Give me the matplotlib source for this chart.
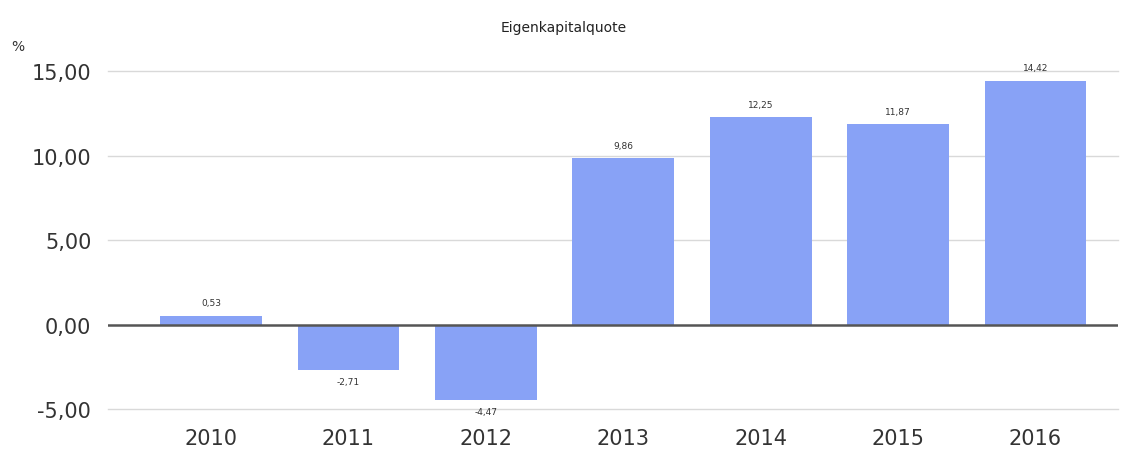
import numpy as np
import matplotlib.pyplot as plt

years = ["2010", "2011", "2012", "2013", "2014", "2015", "2016"]
quote = [0.53, -2.71, -4.47, 9.86, 12.25, 11.87, 14.42]
yticks = [-5, 0, 5, 10, 15]

BAR_COLOR = "#88a2f6"
TEXT_COLOR = "#333333"

def de_fmt(v):
    return f"{v:.2f}".replace(".", ",")

fig = plt.figure(figsize=(11.27, 4.52), dpi=100)
ax = fig.add_axes([0.0958, 0.0929, 0.8962, 0.7478])

x = np.arange(len(years))
bars = ax.bar(x, quote, width=0.74, color=BAR_COLOR, zorder=2)

# value labels above / below bars
for xi, v in zip(x, quote):
    if v >= 0:
        ax.annotate(de_fmt(v), (xi, v), xytext=(0, 6), textcoords="offset points",
                    ha="center", va="bottom", fontsize=6.5, color=TEXT_COLOR)
    else:
        ax.annotate(de_fmt(v), (xi, v), xytext=(0, -5), textcoords="offset points",
                    ha="center", va="top", fontsize=6.5, color=TEXT_COLOR)

ax.set_xlim(-0.75, 6.6)
ax.set_ylim(-5, 15)
ax.set_yticks(yticks)
ax.set_yticklabels([de_fmt(t) for t in yticks])
ax.set_xticks(x)
ax.set_xticklabels(years)

# gridlines drawn by hand so the one at -5 is not clipped
for t in yticks:
    if t != 0:
        ax.axhline(t, color="#d9d9d9", linewidth=1, zorder=0, clip_on=False)
ax.axhline(0, color="#555555", linewidth=1.8, zorder=3)

for s in ax.spines.values():
    s.set_visible(False)
ax.tick_params(axis="both", length=0, labelsize=15, labelcolor=TEXT_COLOR)
ax.tick_params(axis="y", pad=12)
ax.tick_params(axis="x", pad=14)

fig.text(0.5, 0.938, "Eigenkapitalquote", ha="center", va="center",
         fontsize=10, color="#222222")
fig.text(0.0155, 0.895, "%", ha="center", va="center", fontsize=10, color=TEXT_COLOR)

fig.savefig("out.png", dpi=100)
